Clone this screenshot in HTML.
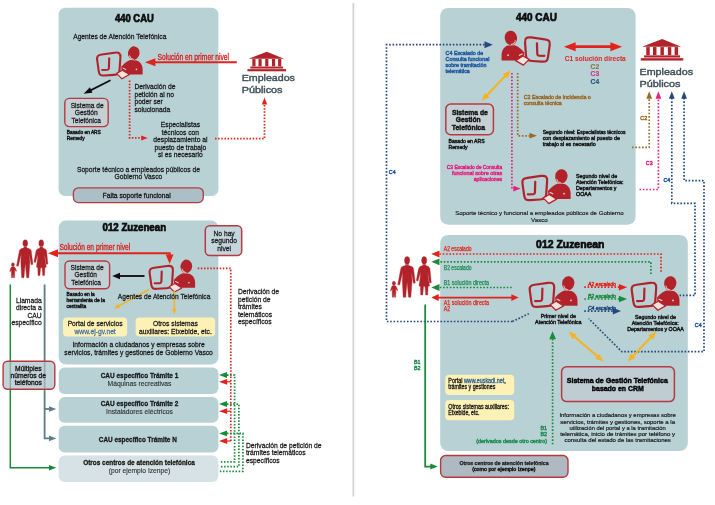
<!DOCTYPE html>
<html><head><meta charset="utf-8"><title>Diagrama CAU</title>
<style>
html,body{margin:0;padding:0;background:#fff;}
body{width:715px;height:505px;overflow:hidden;}
svg{display:block;font-family:"Liberation Sans",sans-serif;}
</style></head><body>
<svg width="715" height="505" viewBox="0 0 715 505">
<defs>
<filter id="soft" x="0" y="0" width="715" height="505" filterUnits="userSpaceOnUse"><feGaussianBlur stdDeviation="0.45"/></filter>
</defs>
<rect width="715" height="505" fill="#ffffff"/>
<g filter="url(#soft)">
<rect x="352.5" y="3" width="1.7" height="493.5" fill="#d2d2d2"/>
<rect x="58.6" y="7.8" width="159.8" height="188.2" rx="6.5" ry="6.5" fill="#b8d1d5"/>
<rect x="58.7" y="220.6" width="159.7" height="143.8" rx="7" ry="7" fill="#b8d1d5"/>
<rect x="58.7" y="367.5" width="159.7" height="26.6" rx="6" ry="6" fill="#b8d1d5"/>
<rect x="58.7" y="397.0" width="159.7" height="25.8" rx="6" ry="6" fill="#b8d1d5"/>
<rect x="58.7" y="425.8" width="159.7" height="26.7" rx="6" ry="6" fill="#b8d1d5"/>
<rect x="58.7" y="455.6" width="159.7" height="26.4" rx="6" ry="6" fill="#d6e2e5"/>
<rect x="440.2" y="8.0" width="195.4" height="216.7" rx="8" ry="8" fill="#b8d1d5"/>
<rect x="440.2" y="235.0" width="247.6" height="216.1" rx="8" ry="8" fill="#b8d1d5"/>
<text x="134.4" y="21.5" font-size="11.3" text-anchor="middle" fill="#0a0a0a" font-weight="bold" textLength="38.7" lengthAdjust="spacingAndGlyphs" stroke="#0a0a0a" stroke-width="0.7">440 CAU</text>
<text x="73.2" y="38.9" font-size="8.0" text-anchor="start" fill="#161616" textLength="93.2" lengthAdjust="spacingAndGlyphs" stroke="#161616" stroke-width="0.26">Agentes de Atención Telefónica</text>
<g transform="translate(95.0,45.0) scale(1.0,1.0)">
  <path d="M2.2,15.2 C1.6,11.2 2.8,10.1 6.8,9.5 L19.6,7.7 C24,7.1 25.7,8.4 25.4,12.6 L24.6,24.4 C24.3,28.6 23,29.6 18.8,29.9 L9.6,30.5 C5.4,30.8 4.2,29.8 3.7,25.8 Z" fill="none" stroke="#b1242a" stroke-width="2.1" stroke-linejoin="round"/>
  <path d="M14.2,13.2 L13.9,23.2 Q13.8,24.7 12.4,24.8 L7.2,25" fill="none" stroke="#b1242a" stroke-width="2.1" stroke-linecap="round" stroke-linejoin="round"/>
  <ellipse cx="38.8" cy="8.1" rx="5.8" ry="6.8" fill="#b1242a" transform="rotate(10 38.8 8.1)"/>
  <path d="M47.6,29.4 L47.6,24 C47.4,19.7 45,16.4 41.8,15.4 L35,15 C31.4,16.2 28.8,18.8 26.2,21.8 L26.6,25.2 L31,29.4 Z" fill="#b1242a"/>
  <path d="M21.6,28.4 L27.4,25.2 L34.4,29.6 L27,33.8 Z" fill="#f3e3df" stroke="#b1242a" stroke-width="1.2" stroke-linejoin="round"/>
  <path d="M34.6,10.8 Q35.2,14 38.4,14.2" fill="none" stroke="#e9b4b0" stroke-width="1.1" stroke-linecap="round"/>
  <circle cx="41.4" cy="24.4" r="0.8" fill="#f3d9d6"/>
  <path d="M27.7,23 L31.2,24.7" stroke="#f3d9d6" stroke-width="1" fill="none"/>
</g>
<path d="M154.0,62.2 L236.8,62.2" fill="none" stroke="#e2231a" stroke-width="2.1" stroke-linejoin="miter"/>
<polygon points="144.9,62.2 155.4,58.2 155.4,66.2" fill="#e2231a"/>
<text x="157.5" y="60.0" font-size="8.3" text-anchor="start" fill="#d81e1e" textLength="71.5" lengthAdjust="spacingAndGlyphs" stroke="#d81e1e" stroke-width="0.32">Solución en primer nivel</text>
<path d="M110.5,80.3 L89.0,91.1" fill="none" stroke="#111" stroke-width="1.8" stroke-linejoin="miter"/>
<polygon points="83.6,93.8 89.9,87.3 92.5,92.7" fill="#111"/>
<rect x="64.8" y="98.4" width="43.4" height="28.2" rx="4.5" ry="4.5" fill="#c4d0d4" stroke="#b53a42" stroke-width="1.4"/>
<text x="87.2" y="107.7" font-size="8.0" text-anchor="middle" fill="#161616" textLength="33.0" lengthAdjust="spacingAndGlyphs" stroke="#161616" stroke-width="0.26">Sistema de</text>
<text x="86.2" y="115.2" font-size="8.0" text-anchor="middle" fill="#161616" textLength="23.0" lengthAdjust="spacingAndGlyphs" stroke="#161616" stroke-width="0.26">Gestión</text>
<text x="86.2" y="122.7" font-size="8.0" text-anchor="middle" fill="#161616" textLength="29.2" lengthAdjust="spacingAndGlyphs" stroke="#161616" stroke-width="0.26">Telefónica</text>
<text x="66.8" y="134.2" font-size="5.3" text-anchor="start" fill="#161616" textLength="34.0" lengthAdjust="spacingAndGlyphs" stroke="#161616" stroke-width="0.44">Basado en ARS</text>
<text x="66.8" y="139.8" font-size="5.3" text-anchor="start" fill="#161616" textLength="17.9" lengthAdjust="spacingAndGlyphs" stroke="#161616" stroke-width="0.44">Remedy</text>
<path d="M129.6,80.5 L129.6,137.9 L141.0,137.9" fill="none" stroke="#e2231a" stroke-width="1.75" stroke-dasharray="1.5 1.64"/>
<polygon points="147.7,137.9 141.2,140.4 141.2,135.4" fill="#e2231a"/>
<text x="134.4" y="89.3" font-size="8.0" text-anchor="start" fill="#161616" textLength="41.1" lengthAdjust="spacingAndGlyphs" stroke="#161616" stroke-width="0.26">Derivación de</text>
<text x="134.4" y="96.8" font-size="8.0" text-anchor="start" fill="#161616" textLength="39.6" lengthAdjust="spacingAndGlyphs" stroke="#161616" stroke-width="0.26">petición al no</text>
<text x="134.4" y="104.4" font-size="8.0" text-anchor="start" fill="#161616" textLength="28.4" lengthAdjust="spacingAndGlyphs" stroke="#161616" stroke-width="0.26">poder ser</text>
<text x="134.4" y="112.0" font-size="8.0" text-anchor="start" fill="#161616" textLength="35.9" lengthAdjust="spacingAndGlyphs" stroke="#161616" stroke-width="0.26">solucionada</text>
<text x="180.4" y="127.1" font-size="8.0" text-anchor="middle" fill="#161616" textLength="39.2" lengthAdjust="spacingAndGlyphs" stroke="#161616" stroke-width="0.26">Especialistas</text>
<text x="180.4" y="134.6" font-size="8.0" text-anchor="middle" fill="#161616" textLength="37.4" lengthAdjust="spacingAndGlyphs" stroke="#161616" stroke-width="0.26">técnicos con</text>
<text x="180.4" y="142.0" font-size="8.0" text-anchor="middle" fill="#161616" textLength="54.2" lengthAdjust="spacingAndGlyphs" stroke="#161616" stroke-width="0.26">desplazamiento al</text>
<text x="180.4" y="149.7" font-size="8.0" text-anchor="middle" fill="#161616" textLength="51.9" lengthAdjust="spacingAndGlyphs" stroke="#161616" stroke-width="0.26">puesto de trabajo</text>
<text x="180.4" y="157.2" font-size="8.0" text-anchor="middle" fill="#161616" textLength="44.8" lengthAdjust="spacingAndGlyphs" stroke="#161616" stroke-width="0.26">si es necesario</text>
<text x="138.4" y="171.7" font-size="8.0" text-anchor="middle" fill="#161616" textLength="123.0" lengthAdjust="spacingAndGlyphs" stroke="#161616" stroke-width="0.26">Soporte técnico a empleados públicos de</text>
<text x="138.4" y="179.0" font-size="8.0" text-anchor="middle" fill="#161616" textLength="47.7" lengthAdjust="spacingAndGlyphs" stroke="#161616" stroke-width="0.26">Gobierno Vasco</text>
<rect x="73.4" y="187.8" width="129.9" height="14.8" rx="5" ry="5" fill="#adbfc6" stroke="#b53a42" stroke-width="1.3"/>
<text x="136.7" y="198.3" font-size="8.0" text-anchor="middle" fill="#161616" textLength="68.3" lengthAdjust="spacingAndGlyphs" stroke="#161616" stroke-width="0.3">Falta soporte funcional</text>
<path d="M215.0,138.7 L264.5,138.7 L264.5,104.0" fill="none" stroke="#e2231a" stroke-width="1.75" stroke-dasharray="1.5 1.64"/>
<polygon points="264.5,97.4 267.2,104.4 261.8,104.4" fill="#e2231a"/>
<g transform="translate(247.4,51.7) scale(0.99)" fill="#b1242a">
  <path d="M19.6,0 L37,7.2 L1.2,7.2 Z"/>
  <rect x="5" y="7.4" width="3.2" height="7.4"/>
  <rect x="11.2" y="7.4" width="3.2" height="7.4"/>
  <rect x="18" y="7.4" width="3.2" height="7.4"/>
  <rect x="24.8" y="7.4" width="3.2" height="7.4"/>
  <rect x="31" y="7.4" width="3.2" height="7.4"/>
  <rect x="3" y="15" width="33" height="2"/>
  <rect x="0" y="17.6" width="39" height="2.2"/>
</g>
<text x="241.7" y="80.9" font-size="9.7" text-anchor="start" fill="#3f5058" textLength="53.2" lengthAdjust="spacingAndGlyphs" stroke="#3f5058" stroke-width="0.42">Empleados</text>
<text x="241.7" y="92.7" font-size="9.7" text-anchor="start" fill="#3f5058" textLength="40.8" lengthAdjust="spacingAndGlyphs" stroke="#3f5058" stroke-width="0.42">Públicos</text>
<text x="134.3" y="231.4" font-size="11.3" text-anchor="middle" fill="#0a0a0a" font-weight="bold" textLength="63.5" lengthAdjust="spacingAndGlyphs" stroke="#0a0a0a" stroke-width="0.7">012 Zuzenean</text>
<g transform="translate(9.3,239.1) scale(0.935)" fill="#b1242a" stroke="#b1242a" stroke-width="0.35" stroke-linejoin="round">
  <ellipse cx="3.9" cy="27.3" rx="1.6" ry="2"/>
  <path d="M3,29.6 L4.9,29.6 Q6,29.8 6.4,31 L7.8,34.2 L7.1,34.7 L5.8,32.6 L5.8,36.5 L5.7,41.3 L4.5,41.3 L4,37.2 L3.6,41.3 L2.3,41.3 L2.2,36.5 L2.3,32.6 L1.1,34.9 L0.4,34.5 L1.6,31 Q2,29.8 3,29.6 Z"/>
  <ellipse cx="17.1" cy="4.4" rx="2.6" ry="3.8"/>
  <path d="M15.6,8.4 L18.6,8.4 L18.7,9.6 Q22.8,10.2 23.5,12.4 L25.3,27 L23.4,27.3 L21.4,15.9 L22.1,24.6 L20.9,41.3 L18.5,41.3 L17.1,25.9 L15.7,41.3 L13.2,41.3 L12.3,24.6 L12.8,15.9 L9.6,29.1 L7.7,28.7 L10.8,12.4 Q11.4,10.2 15.5,9.6 Z"/>
  <ellipse cx="34.2" cy="4.4" rx="2.6" ry="3.8"/>
  <path d="M32.8,8.4 L35.7,8.4 L35.8,9.6 Q39.2,10.2 39.9,12.4 L41.3,26.7 L39.5,27 L37.8,15.9 L38.1,21.2 L39.6,30 L38.1,30.3 L37.7,38.9 L35.7,38.9 L35.1,30.6 L33.5,30.6 L32.8,38.9 L30.7,38.9 L30.4,30.3 L29,30 L30.2,21.2 L30.5,15.9 L28,25 L26.3,24.6 L28.6,12.4 Q29.3,10.2 32.7,9.6 Z"/>
</g>
<path d="M56.0,253.3 L169.6,253.3 L169.6,256.0" fill="none" stroke="#e2231a" stroke-width="2.1" stroke-linejoin="miter"/>
<polygon points="48.0,253.3 58.0,249.3 58.0,257.3" fill="#e2231a"/>
<polygon points="169.6,263.7 165.7,254.4 173.5,254.4" fill="#e2231a"/>
<text x="59.4" y="249.8" font-size="8.3" text-anchor="start" fill="#d81e1e" textLength="70.8" lengthAdjust="spacingAndGlyphs" stroke="#d81e1e" stroke-width="0.32">Solución en primer nivel</text>
<rect x="205.3" y="225.8" width="36.4" height="29.8" rx="4.5" ry="4.5" fill="#c4d5db" stroke="#b53a42" stroke-width="1.5"/>
<text x="224.1" y="235.6" font-size="8.0" text-anchor="middle" fill="#161616" textLength="21.3" lengthAdjust="spacingAndGlyphs" stroke="#161616" stroke-width="0.26">No hay</text>
<text x="224.1" y="243.3" font-size="8.0" text-anchor="middle" fill="#161616" textLength="25.8" lengthAdjust="spacingAndGlyphs" stroke="#161616" stroke-width="0.26">segundo</text>
<text x="224.1" y="250.9" font-size="8.0" text-anchor="middle" fill="#161616" textLength="13.8" lengthAdjust="spacingAndGlyphs" stroke="#161616" stroke-width="0.26">nivel</text>
<rect x="65.0" y="261.0" width="44.6" height="27.8" rx="4.5" ry="4.5" fill="#c4d0d4" stroke="#b53a42" stroke-width="1.4"/>
<text x="87.1" y="269.8" font-size="8.0" text-anchor="middle" fill="#161616" textLength="33.1" lengthAdjust="spacingAndGlyphs" stroke="#161616" stroke-width="0.26">Sistema de</text>
<text x="85.7" y="277.3" font-size="8.0" text-anchor="middle" fill="#161616" textLength="22.5" lengthAdjust="spacingAndGlyphs" stroke="#161616" stroke-width="0.26">Gestión</text>
<text x="86.1" y="285.1" font-size="8.0" text-anchor="middle" fill="#161616" textLength="29.6" lengthAdjust="spacingAndGlyphs" stroke="#161616" stroke-width="0.26">Telefónica</text>
<text x="66.5" y="296.2" font-size="5.4" text-anchor="start" fill="#161616" textLength="28.2" lengthAdjust="spacingAndGlyphs" stroke="#161616" stroke-width="0.44">Basado en la</text>
<text x="66.5" y="301.8" font-size="5.4" text-anchor="start" fill="#161616" textLength="38.4" lengthAdjust="spacingAndGlyphs" stroke="#161616" stroke-width="0.44">herramienta de la</text>
<text x="66.5" y="307.5" font-size="5.4" text-anchor="start" fill="#161616" textLength="19.8" lengthAdjust="spacingAndGlyphs" stroke="#161616" stroke-width="0.44">centralita</text>
<path d="M144.5,276.0 L119.0,276.0" fill="none" stroke="#111" stroke-width="1.9" stroke-linejoin="miter"/>
<polygon points="112.2,276.0 120.0,272.7 120.0,279.3" fill="#111"/>
<g transform="translate(147.5,258.3) scale(1.0,1.0)">
  <path d="M2.2,15.2 C1.6,11.2 2.8,10.1 6.8,9.5 L19.6,7.7 C24,7.1 25.7,8.4 25.4,12.6 L24.6,24.4 C24.3,28.6 23,29.6 18.8,29.9 L9.6,30.5 C5.4,30.8 4.2,29.8 3.7,25.8 Z" fill="none" stroke="#b1242a" stroke-width="2.1" stroke-linejoin="round"/>
  <path d="M14.2,13.2 L13.9,23.2 Q13.8,24.7 12.4,24.8 L7.2,25" fill="none" stroke="#b1242a" stroke-width="2.1" stroke-linecap="round" stroke-linejoin="round"/>
  <ellipse cx="38.8" cy="8.1" rx="5.8" ry="6.8" fill="#b1242a" transform="rotate(10 38.8 8.1)"/>
  <path d="M47.6,29.4 L47.6,24 C47.4,19.7 45,16.4 41.8,15.4 L35,15 C31.4,16.2 28.8,18.8 26.2,21.8 L26.6,25.2 L31,29.4 Z" fill="#b1242a"/>
  <path d="M21.6,28.4 L27.4,25.2 L34.4,29.6 L27,33.8 Z" fill="#f3e3df" stroke="#b1242a" stroke-width="1.2" stroke-linejoin="round"/>
  <path d="M34.6,10.8 Q35.2,14 38.4,14.2" fill="none" stroke="#e9b4b0" stroke-width="1.1" stroke-linecap="round"/>
  <circle cx="41.4" cy="24.4" r="0.8" fill="#f3d9d6"/>
  <path d="M27.7,23 L31.2,24.7" stroke="#f3d9d6" stroke-width="1" fill="none"/>
</g>
<path d="M149.0,289.5 L119.0,305.9" fill="none" stroke="#f5b323" stroke-width="1.5" stroke-linejoin="miter"/>
<polygon points="113.9,308.7 118.1,303.8 120.2,307.8" fill="#f5b323"/>
<path d="M174.3,290.6 L174.3,309.0" fill="none" stroke="#f5b323" stroke-width="1.5" stroke-linejoin="miter"/>
<polygon points="174.3,314.6 172.1,308.6 176.6,308.6" fill="#f5b323"/>
<text x="117.8" y="298.7" font-size="8.0" text-anchor="start" fill="#161616" textLength="92.6" lengthAdjust="spacingAndGlyphs" stroke="#161616" stroke-width="0.26">Agentes de Atención Telefónica</text>
<rect x="63.0" y="317.6" width="64.2" height="18.8" rx="4" ry="4" fill="#fdf1b6"/>
<text x="95.1" y="325.7" font-size="8.0" text-anchor="middle" fill="#161616" textLength="54.9" lengthAdjust="spacingAndGlyphs" stroke="#161616" stroke-width="0.26">Portal de servicios</text>
<text x="95.1" y="334.0" font-size="8.0" text-anchor="middle" fill="#3f6f9f" textLength="41.3" lengthAdjust="spacingAndGlyphs" stroke="#3f6f9f" stroke-width="0.26">www.ej-gv.net</text>
<rect x="135.6" y="317.6" width="79.6" height="18.8" rx="4" ry="4" fill="#fdf1b6"/>
<text x="175.4" y="325.7" font-size="8.0" text-anchor="middle" fill="#161616" textLength="44.8" lengthAdjust="spacingAndGlyphs" stroke="#161616" stroke-width="0.26">Otros sistemas</text>
<text x="175.4" y="334.0" font-size="8.0" text-anchor="middle" fill="#161616" textLength="72.8" lengthAdjust="spacingAndGlyphs" stroke="#161616" stroke-width="0.26">auxiliares: Etxebide, etc.</text>
<text x="138.6" y="347.3" font-size="8.0" text-anchor="middle" fill="#161616" textLength="132.2" lengthAdjust="spacingAndGlyphs" stroke="#161616" stroke-width="0.26">Información a ciudadanos y empresas sobre</text>
<text x="138.6" y="355.3" font-size="8.0" text-anchor="middle" fill="#161616" textLength="148.5" lengthAdjust="spacingAndGlyphs" stroke="#161616" stroke-width="0.26">servicios, trámites y gestiones de Gobierno Vasco</text>
<path d="M197.7,268.4 L230.8,268.4 L230.8,441.0" fill="none" stroke="#e2231a" stroke-width="1.75" stroke-dasharray="1.5 1.64"/>
<text x="238.0" y="294.2" font-size="8.0" text-anchor="start" fill="#161616" textLength="41.1" lengthAdjust="spacingAndGlyphs" stroke="#161616" stroke-width="0.26">Derivación de</text>
<text x="238.0" y="301.8" font-size="8.0" text-anchor="start" fill="#161616" textLength="32.5" lengthAdjust="spacingAndGlyphs" stroke="#161616" stroke-width="0.26">petición de</text>
<text x="238.0" y="309.2" font-size="8.0" text-anchor="start" fill="#161616" textLength="23.9" lengthAdjust="spacingAndGlyphs" stroke="#161616" stroke-width="0.26">trámites</text>
<text x="238.0" y="316.5" font-size="8.0" text-anchor="start" fill="#161616" textLength="34.0" lengthAdjust="spacingAndGlyphs" stroke="#161616" stroke-width="0.26">telemáticos</text>
<text x="238.0" y="323.8" font-size="8.0" text-anchor="start" fill="#161616" textLength="33.6" lengthAdjust="spacingAndGlyphs" stroke="#161616" stroke-width="0.26">específicos</text>
<path d="M10.3,284.6 L10.3,467.7 L50.0,467.7" fill="none" stroke="#1b8a3a" stroke-width="1.5" stroke-linejoin="miter"/>
<polygon points="56.2,467.7 49.0,470.5 49.0,464.9" fill="#1b8a3a"/>
<path d="M44.6,284.6 L44.6,438.4 L50.0,438.4" fill="none" stroke="#5b7f86" stroke-width="1.8" stroke-linejoin="miter"/>
<path d="M44.6,409.0 L50.0,409.0" fill="none" stroke="#5b7f86" stroke-width="1.8" stroke-linejoin="miter"/>
<polygon points="56.2,409.0 49.0,411.8 49.0,406.2" fill="#5b7f86"/>
<polygon points="56.2,438.4 49.0,441.2 49.0,435.6" fill="#5b7f86"/>
<text x="41.7" y="302.7" font-size="8.0" text-anchor="end" fill="#161616" textLength="25.8" lengthAdjust="spacingAndGlyphs" stroke="#161616" stroke-width="0.26">Llamada</text>
<text x="41.7" y="310.2" font-size="8.0" text-anchor="end" fill="#161616" textLength="25.8" lengthAdjust="spacingAndGlyphs" stroke="#161616" stroke-width="0.26">directa a</text>
<text x="41.7" y="317.7" font-size="8.0" text-anchor="end" fill="#161616" textLength="14.2" lengthAdjust="spacingAndGlyphs" stroke="#161616" stroke-width="0.26">CAU</text>
<text x="41.7" y="325.0" font-size="8.0" text-anchor="end" fill="#161616" textLength="30.3" lengthAdjust="spacingAndGlyphs" stroke="#161616" stroke-width="0.26">específico</text>
<rect x="3.1" y="361.2" width="51.7" height="28" rx="4.5" ry="4.5" fill="#adc2c9" fill-opacity="0.72" stroke="#b53a42" stroke-width="1.4"/>
<text x="28.3" y="370.9" font-size="8.0" text-anchor="middle" fill="#1c1c1c" textLength="26.5" lengthAdjust="spacingAndGlyphs" stroke="#1c1c1c" stroke-width="0.4">Múltiples</text>
<text x="28.3" y="378.1" font-size="8.0" text-anchor="middle" fill="#1c1c1c" textLength="35.5" lengthAdjust="spacingAndGlyphs" stroke="#1c1c1c" stroke-width="0.4">números de</text>
<text x="28.3" y="385.3" font-size="8.0" text-anchor="middle" fill="#1c1c1c" textLength="27.3" lengthAdjust="spacingAndGlyphs" stroke="#1c1c1c" stroke-width="0.4">teléfonos</text>
<text x="139.5" y="378.0" font-size="7.7" text-anchor="middle" fill="#161616" font-weight="bold" textLength="77.6" lengthAdjust="spacingAndGlyphs" stroke="#161616" stroke-width="0.3">CAU específico Trámite 1</text>
<text x="139.5" y="385.7" font-size="8.0" text-anchor="middle" fill="#2e2e2e" textLength="63.9" lengthAdjust="spacingAndGlyphs" stroke="#2e2e2e" stroke-width="0.12">Máquinas recreativas</text>
<text x="139.5" y="406.2" font-size="7.7" text-anchor="middle" fill="#161616" font-weight="bold" textLength="77.6" lengthAdjust="spacingAndGlyphs" stroke="#161616" stroke-width="0.3">CAU específico Trámite 2</text>
<text x="139.5" y="413.7" font-size="8.0" text-anchor="middle" fill="#2e2e2e" textLength="66.9" lengthAdjust="spacingAndGlyphs" stroke="#2e2e2e" stroke-width="0.12">Instaladores eléctricos</text>
<text x="137.8" y="441.7" font-size="7.7" text-anchor="middle" fill="#161616" font-weight="bold" textLength="78.0" lengthAdjust="spacingAndGlyphs" stroke="#161616" stroke-width="0.3">CAU específico Trámite N</text>
<text x="139.0" y="465.2" font-size="7.7" text-anchor="middle" fill="#161616" font-weight="bold" textLength="111.7" lengthAdjust="spacingAndGlyphs" stroke="#161616" stroke-width="0.3">Otros centros de atención telefónica</text>
<text x="139.5" y="473.3" font-size="8.0" text-anchor="middle" fill="#2e2e2e" textLength="61.6" lengthAdjust="spacingAndGlyphs" stroke="#2e2e2e" stroke-width="0.12">(por ejemplo Izenpe)</text>
<polygon points="219.0,375.0 227.0,372.1 227.0,377.9" fill="#1b8a3a"/>
<polygon points="219.0,381.8 227.2,378.9 227.2,384.7" fill="#e2231a"/>
<path d="M227.0,381.8 L230.8,381.8" fill="none" stroke="#e2231a" stroke-width="1.2" stroke-linejoin="miter"/>
<polygon points="219.0,404.0 227.0,401.1 227.0,406.9" fill="#1b8a3a"/>
<polygon points="219.0,411.2 227.2,408.3 227.2,414.1" fill="#e2231a"/>
<path d="M227.0,411.2 L230.8,411.2" fill="none" stroke="#e2231a" stroke-width="1.2" stroke-linejoin="miter"/>
<polygon points="219.0,433.4 227.0,430.5 227.0,436.3" fill="#1b8a3a"/>
<polygon points="219.0,441.0 227.2,438.1 227.2,443.9" fill="#e2231a"/>
<path d="M227.0,441.0 L230.8,441.0" fill="none" stroke="#e2231a" stroke-width="1.2" stroke-linejoin="miter"/>
<path d="M227.0,375.0 L234.6,375.0 L234.6,461.9 L219.5,461.9" fill="none" stroke="#1b8a3a" stroke-width="1.75" stroke-dasharray="1.5 1.64"/>
<path d="M227.0,404.0 L238.9,404.0 L238.9,466.7 L219.5,466.7" fill="none" stroke="#1b8a3a" stroke-width="1.75" stroke-dasharray="1.5 1.64"/>
<path d="M227.0,433.4 L242.9,433.4 L242.9,471.3 L219.5,471.3" fill="none" stroke="#1b8a3a" stroke-width="1.75" stroke-dasharray="1.5 1.64"/>
<text x="246.0" y="447.6" font-size="8.0" text-anchor="start" fill="#161616" textLength="75.5" lengthAdjust="spacingAndGlyphs" stroke="#161616" stroke-width="0.26">Derivación de petición de</text>
<text x="246.0" y="455.1" font-size="8.0" text-anchor="start" fill="#161616" textLength="59.7" lengthAdjust="spacingAndGlyphs" stroke="#161616" stroke-width="0.26">trámites telemáticos</text>
<text x="246.0" y="462.6" font-size="8.0" text-anchor="start" fill="#161616" textLength="33.6" lengthAdjust="spacingAndGlyphs" stroke="#161616" stroke-width="0.26">específicos</text>
<text x="536.4" y="21.2" font-size="11.6" text-anchor="middle" fill="#0a0a0a" font-weight="bold" textLength="41.0" lengthAdjust="spacingAndGlyphs" stroke="#0a0a0a" stroke-width="0.7">440 CAU</text>
<g transform="translate(552.0,29.3) scale(-1.06,1.06)">
  <path d="M2.2,15.2 C1.6,11.2 2.8,10.1 6.8,9.5 L19.6,7.7 C24,7.1 25.7,8.4 25.4,12.6 L24.6,24.4 C24.3,28.6 23,29.6 18.8,29.9 L9.6,30.5 C5.4,30.8 4.2,29.8 3.7,25.8 Z" fill="none" stroke="#b1242a" stroke-width="2.1" stroke-linejoin="round"/>
  <path d="M14.2,13.2 L13.9,23.2 Q13.8,24.7 12.4,24.8 L7.2,25" fill="none" stroke="#b1242a" stroke-width="2.1" stroke-linecap="round" stroke-linejoin="round"/>
  <ellipse cx="38.8" cy="8.1" rx="5.8" ry="6.8" fill="#b1242a" transform="rotate(10 38.8 8.1)"/>
  <path d="M47.6,29.4 L47.6,24 C47.4,19.7 45,16.4 41.8,15.4 L35,15 C31.4,16.2 28.8,18.8 26.2,21.8 L26.6,25.2 L31,29.4 Z" fill="#b1242a"/>
  <path d="M21.6,28.4 L27.4,25.2 L34.4,29.6 L27,33.8 Z" fill="#f3e3df" stroke="#b1242a" stroke-width="1.2" stroke-linejoin="round"/>
  <path d="M34.6,10.8 Q35.2,14 38.4,14.2" fill="none" stroke="#e9b4b0" stroke-width="1.1" stroke-linecap="round"/>
  <circle cx="41.4" cy="24.4" r="0.8" fill="#f3d9d6"/>
  <path d="M27.7,23 L31.2,24.7" stroke="#f3d9d6" stroke-width="1" fill="none"/>
</g>
<path d="M512.4,321.5 L386.5,321.5 L386.5,44.7 L486.0,44.7" fill="none" stroke="#22497f" stroke-width="1.7" stroke-dasharray="1.6 1.75"/>
<path d="M512.4,321.5 L528.8,313.7" fill="none" stroke="#22497f" stroke-width="1.7" stroke-dasharray="1.6 1.75"/>
<polygon points="492.8,44.7 484.5,48.2 484.5,41.2" fill="#22497f"/>
<text x="445.6" y="55.0" font-size="5.6" text-anchor="start" fill="#2058a0" textLength="37.6" lengthAdjust="spacingAndGlyphs" stroke="#2058a0" stroke-width="0.44">C4 Escalado de</text>
<text x="445.6" y="61.0" font-size="5.6" text-anchor="start" fill="#2058a0" textLength="43.8" lengthAdjust="spacingAndGlyphs" stroke="#2058a0" stroke-width="0.44">Consulta funcional</text>
<text x="445.6" y="67.0" font-size="5.6" text-anchor="start" fill="#2058a0" textLength="40.8" lengthAdjust="spacingAndGlyphs" stroke="#2058a0" stroke-width="0.44">sobre tramitación</text>
<text x="445.6" y="73.0" font-size="5.6" text-anchor="start" fill="#2058a0" textLength="24.2" lengthAdjust="spacingAndGlyphs" stroke="#2058a0" stroke-width="0.44">telemática</text>
<path d="M573.0,46.7 L613.0,46.7" fill="none" stroke="#e2231a" stroke-width="2.8" stroke-linejoin="miter"/>
<polygon points="563.9,46.7 575.6,42.2 575.6,51.2" fill="#e2231a"/>
<polygon points="622.1,46.7 610.4,51.2 610.4,42.2" fill="#e2231a"/>
<text x="564.8" y="60.7" font-size="8.1" text-anchor="start" fill="#dc2a2e" font-weight="bold" textLength="61.0" lengthAdjust="spacingAndGlyphs" stroke="#dc2a2e" stroke-width="0.05">C1 solución directa</text>
<text x="599.2" y="68.6" font-size="7.4" text-anchor="end" fill="#8a7840" font-weight="bold" textLength="8.6" lengthAdjust="spacingAndGlyphs" stroke="#8a7840" stroke-width="0.15">C2</text>
<text x="599.2" y="76.2" font-size="7.4" text-anchor="end" fill="#c63a8f" font-weight="bold" textLength="8.6" lengthAdjust="spacingAndGlyphs" stroke="#c63a8f" stroke-width="0.15">C3</text>
<text x="599.2" y="84.2" font-size="7.4" text-anchor="end" fill="#24527a" font-weight="bold" textLength="8.6" lengthAdjust="spacingAndGlyphs" stroke="#24527a" stroke-width="0.15">C4</text>
<path d="M486.0,96.2 L506.2,75.1" fill="none" stroke="#f5b323" stroke-width="2.1" stroke-linejoin="miter"/>
<polygon points="481.6,100.8 484.8,92.8 489.4,97.2" fill="#f5b323"/>
<polygon points="510.6,70.5 507.4,78.5 502.8,74.1" fill="#f5b323"/>
<path d="M511.9,73.0 L511.9,188.7 L514.0,188.7" fill="none" stroke="#e5217f" stroke-width="1.7" stroke-dasharray="1.6 1.75"/>
<polygon points="520.6,188.6 513.4,191.4 513.4,185.8" fill="#e5217f"/>
<text x="502.2" y="168.6" font-size="5.6" text-anchor="end" fill="#e5217f" textLength="55.4" lengthAdjust="spacingAndGlyphs" stroke="#e5217f" stroke-width="0.44">C3 Escalado de Consulta</text>
<text x="502.2" y="174.9" font-size="5.6" text-anchor="end" fill="#e5217f" textLength="50.2" lengthAdjust="spacingAndGlyphs" stroke="#e5217f" stroke-width="0.44">funcional sobre otras</text>
<text x="502.2" y="181.0" font-size="5.6" text-anchor="end" fill="#e5217f" textLength="28.5" lengthAdjust="spacingAndGlyphs" stroke="#e5217f" stroke-width="0.44">aplicaciones</text>
<path d="M517.7,73.0 L517.7,135.8 L531.0,135.8" fill="none" stroke="#9a6a2a" stroke-width="1.7" stroke-dasharray="1.6 1.75"/>
<polygon points="537.0,135.7 529.5,138.6 529.5,132.8" fill="#9a6a2a"/>
<text x="523.7" y="98.7" font-size="5.6" text-anchor="start" fill="#9a6a2a" textLength="67.1" lengthAdjust="spacingAndGlyphs" stroke="#9a6a2a" stroke-width="0.44">C2 Escalado de incidencia o</text>
<text x="523.7" y="104.7" font-size="5.6" text-anchor="start" fill="#9a6a2a" textLength="38.1" lengthAdjust="spacingAndGlyphs" stroke="#9a6a2a" stroke-width="0.44">consulta técnica</text>
<rect x="445.8" y="104.0" width="47.6" height="30.7" rx="5" ry="5" fill="#c4d0d4" stroke="#b53a42" stroke-width="1.5"/>
<text x="469.9" y="114.9" font-size="8.1" text-anchor="middle" fill="#161616" font-weight="bold" textLength="36.0" lengthAdjust="spacingAndGlyphs" stroke="#161616" stroke-width="0.5">Sistema de</text>
<text x="468.2" y="122.4" font-size="8.1" text-anchor="middle" fill="#161616" font-weight="bold" textLength="25.0" lengthAdjust="spacingAndGlyphs" stroke="#161616" stroke-width="0.5">Gestión</text>
<text x="468.5" y="130.2" font-size="8.1" text-anchor="middle" fill="#161616" font-weight="bold" textLength="33.3" lengthAdjust="spacingAndGlyphs" stroke="#161616" stroke-width="0.5">Telefónica</text>
<text x="448.5" y="142.6" font-size="5.6" text-anchor="start" fill="#161616" textLength="36.1" lengthAdjust="spacingAndGlyphs" stroke="#161616" stroke-width="0.44">Basado en ARS</text>
<text x="448.5" y="148.8" font-size="5.6" text-anchor="start" fill="#161616" textLength="19.2" lengthAdjust="spacingAndGlyphs" stroke="#161616" stroke-width="0.44">Remedy</text>
<text x="542.7" y="134.0" font-size="5.6" text-anchor="start" fill="#161616" textLength="82.7" lengthAdjust="spacingAndGlyphs" stroke="#161616" stroke-width="0.44">Segundo nivel: Especialistas técnicos</text>
<text x="542.7" y="140.2" font-size="5.6" text-anchor="start" fill="#161616" textLength="77.2" lengthAdjust="spacingAndGlyphs" stroke="#161616" stroke-width="0.44">con desplazamiento al puesto de</text>
<text x="542.7" y="146.4" font-size="5.6" text-anchor="start" fill="#161616" textLength="53.0" lengthAdjust="spacingAndGlyphs" stroke="#161616" stroke-width="0.44">trabajo si es necesario</text>
<g transform="translate(520.2,167.8) scale(1.06,1.06)">
  <path d="M2.2,15.2 C1.6,11.2 2.8,10.1 6.8,9.5 L19.6,7.7 C24,7.1 25.7,8.4 25.4,12.6 L24.6,24.4 C24.3,28.6 23,29.6 18.8,29.9 L9.6,30.5 C5.4,30.8 4.2,29.8 3.7,25.8 Z" fill="none" stroke="#b1242a" stroke-width="2.1" stroke-linejoin="round"/>
  <path d="M14.2,13.2 L13.9,23.2 Q13.8,24.7 12.4,24.8 L7.2,25" fill="none" stroke="#b1242a" stroke-width="2.1" stroke-linecap="round" stroke-linejoin="round"/>
  <ellipse cx="38.8" cy="8.1" rx="5.8" ry="6.8" fill="#b1242a" transform="rotate(10 38.8 8.1)"/>
  <path d="M47.6,29.4 L47.6,24 C47.4,19.7 45,16.4 41.8,15.4 L35,15 C31.4,16.2 28.8,18.8 26.2,21.8 L26.6,25.2 L31,29.4 Z" fill="#b1242a"/>
  <path d="M21.6,28.4 L27.4,25.2 L34.4,29.6 L27,33.8 Z" fill="#f3e3df" stroke="#b1242a" stroke-width="1.2" stroke-linejoin="round"/>
  <path d="M34.6,10.8 Q35.2,14 38.4,14.2" fill="none" stroke="#e9b4b0" stroke-width="1.1" stroke-linecap="round"/>
  <circle cx="41.4" cy="24.4" r="0.8" fill="#f3d9d6"/>
  <path d="M27.7,23 L31.2,24.7" stroke="#f3d9d6" stroke-width="1" fill="none"/>
</g>
<text x="576.0" y="178.0" font-size="5.6" text-anchor="start" fill="#161616" textLength="41.1" lengthAdjust="spacingAndGlyphs" stroke="#161616" stroke-width="0.44">Segundo nivel de</text>
<text x="576.0" y="184.0" font-size="5.6" text-anchor="start" fill="#161616" textLength="47.5" lengthAdjust="spacingAndGlyphs" stroke="#161616" stroke-width="0.44">Atención Telefónica:</text>
<text x="576.0" y="190.0" font-size="5.6" text-anchor="start" fill="#161616" textLength="40.5" lengthAdjust="spacingAndGlyphs" stroke="#161616" stroke-width="0.44">Departamentos y</text>
<text x="576.0" y="196.0" font-size="5.6" text-anchor="start" fill="#161616" textLength="15.4" lengthAdjust="spacingAndGlyphs" stroke="#161616" stroke-width="0.44">OOAA</text>
<text x="539.4" y="214.6" font-size="5.9" text-anchor="middle" fill="#161616" textLength="168.5" lengthAdjust="spacingAndGlyphs" stroke="#161616" stroke-width="0.15">Soporte técnico y funcional a empleados públicos de Gobierno</text>
<text x="539.4" y="221.5" font-size="5.9" text-anchor="middle" fill="#161616" textLength="16.6" lengthAdjust="spacingAndGlyphs" stroke="#161616" stroke-width="0.15">Vasco</text>
<g transform="translate(640.8,39.0) scale(1.09)" fill="#b1242a">
  <path d="M19.6,0 L37,7.2 L1.2,7.2 Z"/>
  <rect x="5" y="7.4" width="3.2" height="7.4"/>
  <rect x="11.2" y="7.4" width="3.2" height="7.4"/>
  <rect x="18" y="7.4" width="3.2" height="7.4"/>
  <rect x="24.8" y="7.4" width="3.2" height="7.4"/>
  <rect x="31" y="7.4" width="3.2" height="7.4"/>
  <rect x="3" y="15" width="33" height="2"/>
  <rect x="0" y="17.6" width="39" height="2.2"/>
</g>
<text x="639.5" y="75.0" font-size="9.7" text-anchor="start" fill="#3f5058" textLength="53.6" lengthAdjust="spacingAndGlyphs" stroke="#3f5058" stroke-width="0.42">Empleados</text>
<text x="639.5" y="87.0" font-size="9.7" text-anchor="start" fill="#3f5058" textLength="41.0" lengthAdjust="spacingAndGlyphs" stroke="#3f5058" stroke-width="0.42">Públicos</text>
<polygon points="649.2,91.2 652.1,98.8 646.3,98.8" fill="#9a6a2a"/>
<polygon points="658.4,91.2 661.3,98.8 655.5,98.8" fill="#e5217f"/>
<polygon points="671.8,91.2 674.7,98.8 668.9,98.8" fill="#22497f"/>
<polygon points="684.1,91.2 687.0,98.8 681.2,98.8" fill="#22497f"/>
<path d="M632.0,147.4 L649.2,147.4 L649.2,98.0" fill="none" stroke="#9a6a2a" stroke-width="1.7" stroke-dasharray="1.6 1.75"/>
<path d="M639.5,189.5 L658.4,189.5 L658.4,98.0" fill="none" stroke="#e5217f" stroke-width="1.7" stroke-dasharray="1.6 1.75"/>
<path d="M671.8,98.0 L671.8,203.3 L695.0,203.3 L695.0,295.3 L679.6,295.3" fill="none" stroke="#22497f" stroke-width="1.7" stroke-dasharray="1.6 1.75"/>
<path d="M684.1,98.0 L684.1,180.6 L704.0,180.6 L704.0,351.7 L621.8,351.7 L588.7,318.6" fill="none" stroke="#22497f" stroke-width="1.7" stroke-dasharray="1.6 1.75"/>
<text x="640.3" y="119.7" font-size="5.6" text-anchor="start" fill="#9a6a2a" textLength="6.8" lengthAdjust="spacingAndGlyphs" stroke="#9a6a2a" stroke-width="0.44">C2</text>
<text x="645.8" y="165.0" font-size="5.6" text-anchor="start" fill="#e5217f" textLength="6.8" lengthAdjust="spacingAndGlyphs" stroke="#e5217f" stroke-width="0.44">C3</text>
<text x="663.5" y="182.0" font-size="5.6" text-anchor="start" fill="#2058a0" textLength="6.8" lengthAdjust="spacingAndGlyphs" stroke="#2058a0" stroke-width="0.44">C4</text>
<text x="694.8" y="326.5" font-size="5.6" text-anchor="start" fill="#2058a0" textLength="6.8" lengthAdjust="spacingAndGlyphs" stroke="#2058a0" stroke-width="0.44">C4</text>
<text x="388.8" y="173.7" font-size="5.6" text-anchor="start" fill="#2058a0" textLength="6.8" lengthAdjust="spacingAndGlyphs" stroke="#2058a0" stroke-width="0.44">C4</text>
<text x="570.3" y="247.6" font-size="11.3" text-anchor="middle" fill="#0a0a0a" font-weight="bold" textLength="68.4" lengthAdjust="spacingAndGlyphs" stroke="#0a0a0a" stroke-width="0.7">012 Zuzenean</text>
<g transform="translate(390.0,256.0) scale(1.0)" fill="#b1242a" stroke="#b1242a" stroke-width="0.35" stroke-linejoin="round">
  <ellipse cx="3.9" cy="27.3" rx="1.6" ry="2"/>
  <path d="M3,29.6 L4.9,29.6 Q6,29.8 6.4,31 L7.8,34.2 L7.1,34.7 L5.8,32.6 L5.8,36.5 L5.7,41.3 L4.5,41.3 L4,37.2 L3.6,41.3 L2.3,41.3 L2.2,36.5 L2.3,32.6 L1.1,34.9 L0.4,34.5 L1.6,31 Q2,29.8 3,29.6 Z"/>
  <ellipse cx="17.1" cy="4.4" rx="2.6" ry="3.8"/>
  <path d="M15.6,8.4 L18.6,8.4 L18.7,9.6 Q22.8,10.2 23.5,12.4 L25.3,27 L23.4,27.3 L21.4,15.9 L22.1,24.6 L20.9,41.3 L18.5,41.3 L17.1,25.9 L15.7,41.3 L13.2,41.3 L12.3,24.6 L12.8,15.9 L9.6,29.1 L7.7,28.7 L10.8,12.4 Q11.4,10.2 15.5,9.6 Z"/>
  <ellipse cx="34.2" cy="4.4" rx="2.6" ry="3.8"/>
  <path d="M32.8,8.4 L35.7,8.4 L35.8,9.6 Q39.2,10.2 39.9,12.4 L41.3,26.7 L39.5,27 L37.8,15.9 L38.1,21.2 L39.6,30 L38.1,30.3 L37.7,38.9 L35.7,38.9 L35.1,30.6 L33.5,30.6 L32.8,38.9 L30.7,38.9 L30.4,30.3 L29,30 L30.2,21.2 L30.5,15.9 L28,25 L26.3,24.6 L28.6,12.4 Q29.3,10.2 32.7,9.6 Z"/>
</g>
<path d="M661.0,271.8 L661.0,254.0 L438.0,254.0" fill="none" stroke="#e2231a" stroke-width="1.7" stroke-dasharray="1.6 1.75"/>
<polygon points="431.3,254.0 439.5,250.6 439.5,257.4" fill="#e2231a"/>
<text x="443.8" y="251.4" font-size="6.5" text-anchor="start" fill="#e2231a" textLength="27.7" lengthAdjust="spacingAndGlyphs" stroke="#e2231a" stroke-width="0.25">A2 escalado</text>
<path d="M650.9,274.0 L650.9,261.8 L438.0,261.8" fill="none" stroke="#1b8a3a" stroke-width="1.7" stroke-dasharray="1.6 1.75"/>
<polygon points="431.3,261.8 439.5,258.4 439.5,265.2" fill="#1b8a3a"/>
<text x="443.8" y="269.5" font-size="6.5" text-anchor="start" fill="#1e8c50" textLength="27.7" lengthAdjust="spacingAndGlyphs" stroke="#1e8c50" stroke-width="0.25">B2 escalado</text>
<path d="M511.7,287.5 L438.0,287.5" fill="none" stroke="#1b8a3a" stroke-width="1.7" stroke-dasharray="1.6 1.75"/>
<polygon points="431.3,287.5 439.5,284.1 439.5,290.9" fill="#1b8a3a"/>
<text x="443.8" y="284.6" font-size="6.5" text-anchor="start" fill="#1e8c50" textLength="45.2" lengthAdjust="spacingAndGlyphs" stroke="#1e8c50" stroke-width="0.25">B1 solución directa</text>
<path d="M437.0,297.6 L513.0,297.6" fill="none" stroke="#e2231a" stroke-width="1.8" stroke-linejoin="miter"/>
<polygon points="431.3,297.6 438.7,294.1 438.7,301.1" fill="#e2231a"/>
<polygon points="518.6,297.6 511.4,301.0 511.4,294.2" fill="#e2231a"/>
<text x="443.8" y="305.3" font-size="6.5" text-anchor="start" fill="#e2231a" textLength="45.2" lengthAdjust="spacingAndGlyphs" stroke="#e2231a" stroke-width="0.25">A1 solución directa</text>
<text x="443.8" y="311.0" font-size="6.5" text-anchor="start" fill="#e2231a" textLength="6.4" lengthAdjust="spacingAndGlyphs" stroke="#e2231a" stroke-width="0.25">A2</text>
<path d="M425.2,304.4 L425.2,466.6 L431.0,466.6" fill="none" stroke="#1b8a3a" stroke-width="1.8" stroke-linejoin="miter"/>
<polygon points="437.8,466.6 430.3,469.6 430.3,463.6" fill="#1b8a3a"/>
<text x="420.5" y="364.0" font-size="5.6" text-anchor="end" fill="#1e8c50" textLength="6.5" lengthAdjust="spacingAndGlyphs" stroke="#1e8c50" stroke-width="0.44">B1</text>
<text x="420.5" y="370.3" font-size="5.6" text-anchor="end" fill="#1e8c50" textLength="6.5" lengthAdjust="spacingAndGlyphs" stroke="#1e8c50" stroke-width="0.44">B2</text>
<g transform="translate(527.5,274.8) scale(1.05,1.05)">
  <path d="M2.2,15.2 C1.6,11.2 2.8,10.1 6.8,9.5 L19.6,7.7 C24,7.1 25.7,8.4 25.4,12.6 L24.6,24.4 C24.3,28.6 23,29.6 18.8,29.9 L9.6,30.5 C5.4,30.8 4.2,29.8 3.7,25.8 Z" fill="none" stroke="#b1242a" stroke-width="2.1" stroke-linejoin="round"/>
  <path d="M14.2,13.2 L13.9,23.2 Q13.8,24.7 12.4,24.8 L7.2,25" fill="none" stroke="#b1242a" stroke-width="2.1" stroke-linecap="round" stroke-linejoin="round"/>
  <ellipse cx="38.8" cy="8.1" rx="5.8" ry="6.8" fill="#b1242a" transform="rotate(10 38.8 8.1)"/>
  <path d="M47.6,29.4 L47.6,24 C47.4,19.7 45,16.4 41.8,15.4 L35,15 C31.4,16.2 28.8,18.8 26.2,21.8 L26.6,25.2 L31,29.4 Z" fill="#b1242a"/>
  <path d="M21.6,28.4 L27.4,25.2 L34.4,29.6 L27,33.8 Z" fill="#f3e3df" stroke="#b1242a" stroke-width="1.2" stroke-linejoin="round"/>
  <path d="M34.6,10.8 Q35.2,14 38.4,14.2" fill="none" stroke="#e9b4b0" stroke-width="1.1" stroke-linecap="round"/>
  <circle cx="41.4" cy="24.4" r="0.8" fill="#f3d9d6"/>
  <path d="M27.7,23 L31.2,24.7" stroke="#f3d9d6" stroke-width="1" fill="none"/>
</g>
<g transform="translate(629.5,274.8) scale(1.05,1.05)">
  <path d="M2.2,15.2 C1.6,11.2 2.8,10.1 6.8,9.5 L19.6,7.7 C24,7.1 25.7,8.4 25.4,12.6 L24.6,24.4 C24.3,28.6 23,29.6 18.8,29.9 L9.6,30.5 C5.4,30.8 4.2,29.8 3.7,25.8 Z" fill="none" stroke="#b1242a" stroke-width="2.1" stroke-linejoin="round"/>
  <path d="M14.2,13.2 L13.9,23.2 Q13.8,24.7 12.4,24.8 L7.2,25" fill="none" stroke="#b1242a" stroke-width="2.1" stroke-linecap="round" stroke-linejoin="round"/>
  <ellipse cx="38.8" cy="8.1" rx="5.8" ry="6.8" fill="#b1242a" transform="rotate(10 38.8 8.1)"/>
  <path d="M47.6,29.4 L47.6,24 C47.4,19.7 45,16.4 41.8,15.4 L35,15 C31.4,16.2 28.8,18.8 26.2,21.8 L26.6,25.2 L31,29.4 Z" fill="#b1242a"/>
  <path d="M21.6,28.4 L27.4,25.2 L34.4,29.6 L27,33.8 Z" fill="#f3e3df" stroke="#b1242a" stroke-width="1.2" stroke-linejoin="round"/>
  <path d="M34.6,10.8 Q35.2,14 38.4,14.2" fill="none" stroke="#e9b4b0" stroke-width="1.1" stroke-linecap="round"/>
  <circle cx="41.4" cy="24.4" r="0.8" fill="#f3d9d6"/>
  <path d="M27.7,23 L31.2,24.7" stroke="#f3d9d6" stroke-width="1" fill="none"/>
</g>
<path d="M584.3,287.2 L621.1,287.2" fill="none" stroke="#e2231a" stroke-width="1.7" stroke-dasharray="1.6 1.75"/>
<polygon points="627.1,287.2 618.9,290.5 618.9,283.9" fill="#e2231a"/>
<text x="588.0" y="286.2" font-size="5.6" text-anchor="start" fill="#e2231a" textLength="27.8" lengthAdjust="spacingAndGlyphs" font-style="italic" stroke="#e2231a" stroke-width="0.44">A2 escalado</text>
<path d="M584.3,299.0 L621.1,299.0" fill="none" stroke="#1b8a3a" stroke-width="1.7" stroke-dasharray="1.6 1.75"/>
<polygon points="627.1,299.0 618.9,302.3 618.9,295.7" fill="#1b8a3a"/>
<text x="588.0" y="298.0" font-size="5.6" text-anchor="start" fill="#1b8a3a" textLength="27.8" lengthAdjust="spacingAndGlyphs" font-style="italic" stroke="#1b8a3a" stroke-width="0.44">B2 escalado</text>
<path d="M584.3,311.1 L615.0,311.1" fill="none" stroke="#22497f" stroke-width="1.7" stroke-dasharray="1.6 1.75"/>
<polygon points="621.0,311.1 612.8,314.4 612.8,307.8" fill="#22497f"/>
<text x="588.0" y="310.1" font-size="5.6" text-anchor="start" fill="#22497f" textLength="27.8" lengthAdjust="spacingAndGlyphs" font-style="italic" stroke="#22497f" stroke-width="0.44">C4 escalado</text>
<text x="558.3" y="318.2" font-size="5.6" text-anchor="middle" fill="#161616" textLength="35.2" lengthAdjust="spacingAndGlyphs" stroke="#161616" stroke-width="0.44">Primer nivel de</text>
<text x="558.3" y="324.3" font-size="5.6" text-anchor="middle" fill="#161616" textLength="46.4" lengthAdjust="spacingAndGlyphs" stroke="#161616" stroke-width="0.44">Atención Telefónica</text>
<text x="655.5" y="319.0" font-size="5.6" text-anchor="middle" fill="#161616" textLength="40.8" lengthAdjust="spacingAndGlyphs" stroke="#161616" stroke-width="0.44">Segundo nivel de</text>
<text x="655.2" y="325.0" font-size="5.6" text-anchor="middle" fill="#161616" textLength="47.0" lengthAdjust="spacingAndGlyphs" stroke="#161616" stroke-width="0.44">Atención Telefónica:</text>
<text x="655.5" y="331.3" font-size="5.6" text-anchor="middle" fill="#161616" textLength="56.5" lengthAdjust="spacingAndGlyphs" stroke="#161616" stroke-width="0.44">Departamentos y OOAA</text>
<path d="M573.4,335.8 L598.6,357.4" fill="none" stroke="#f5b323" stroke-width="2.1" stroke-linejoin="miter"/>
<polygon points="568.6,331.6 576.7,334.4 572.6,339.2" fill="#f5b323"/>
<polygon points="603.4,361.6 595.3,358.8 599.4,354.0" fill="#f5b323"/>
<path d="M651.9,336.2 L632.0,357.0" fill="none" stroke="#f5b323" stroke-width="2.1" stroke-linejoin="miter"/>
<polygon points="656.3,331.6 653.1,339.6 648.5,335.2" fill="#f5b323"/>
<polygon points="627.6,361.6 630.8,353.6 635.4,358.0" fill="#f5b323"/>
<path d="M552.6,444.3 L552.6,338.0" fill="none" stroke="#1b8a3a" stroke-width="1.7" stroke-dasharray="1.6 1.75"/>
<polygon points="552.6,331.2 556.0,339.2 549.2,339.2" fill="#1b8a3a"/>
<text x="547.0" y="430.0" font-size="5.6" text-anchor="end" fill="#1e8c50" textLength="6.5" lengthAdjust="spacingAndGlyphs" stroke="#1e8c50" stroke-width="0.44">B1</text>
<text x="547.0" y="435.8" font-size="5.6" text-anchor="end" fill="#1e8c50" textLength="6.5" lengthAdjust="spacingAndGlyphs" stroke="#1e8c50" stroke-width="0.44">B2</text>
<text x="547.0" y="442.8" font-size="5.6" text-anchor="end" fill="#1e8c50" textLength="70.7" lengthAdjust="spacingAndGlyphs" stroke="#1e8c50" stroke-width="0.44">(derivados desde otro centro)</text>
<rect x="561.6" y="366.7" width="112.8" height="34.9" rx="5" ry="5" fill="#bfccd2" stroke="#b53a42" stroke-width="1.5"/>
<text x="617.3" y="382.7" font-size="8" text-anchor="middle" fill="#050505" font-weight="bold" textLength="101.0" lengthAdjust="spacingAndGlyphs" stroke="#050505" stroke-width="0.5">Sistema de Gestión Telefónica</text>
<text x="617.8" y="391.0" font-size="8" text-anchor="middle" fill="#050505" font-weight="bold" textLength="52.0" lengthAdjust="spacingAndGlyphs" stroke="#050505" stroke-width="0.5">basado en CRM</text>
<text x="617.6" y="417.2" font-size="6.1" text-anchor="middle" fill="#161616" textLength="116.4" lengthAdjust="spacingAndGlyphs" stroke="#161616" stroke-width="0.18">Información a ciudadanos y empresas sobre</text>
<text x="617.6" y="423.5" font-size="6.1" text-anchor="middle" fill="#161616" textLength="114.9" lengthAdjust="spacingAndGlyphs" stroke="#161616" stroke-width="0.18">servicios, trámites y gestiones, soporte a la</text>
<text x="617.6" y="429.5" font-size="6.1" text-anchor="middle" fill="#161616" textLength="96.4" lengthAdjust="spacingAndGlyphs" stroke="#161616" stroke-width="0.18">utilización del portal y a la tramitación</text>
<text x="617.6" y="435.9" font-size="6.1" text-anchor="middle" fill="#161616" textLength="114.9" lengthAdjust="spacingAndGlyphs" stroke="#161616" stroke-width="0.18">telemática, inicio de trámites por teléfono y</text>
<text x="617.6" y="442.1" font-size="6.1" text-anchor="middle" fill="#161616" textLength="106.4" lengthAdjust="spacingAndGlyphs" stroke="#161616" stroke-width="0.18">consulta del estado de las tramitaciones</text>
<rect x="445.2" y="374.8" width="69.0" height="20.2" rx="4" ry="4" fill="#fdf1b6"/>
<text x="448.3" y="383.2" font-size="6.5" fill="#161616" stroke="#161616" stroke-width="0.3" textLength="57.5" lengthAdjust="spacingAndGlyphs">Portal <tspan fill="#2f5f95" stroke="#2f5f95">www.euskadi.net</tspan>,</text>
<text x="448.3" y="388.9" font-size="6.5" text-anchor="start" fill="#161616" textLength="47.0" lengthAdjust="spacingAndGlyphs" stroke="#161616" stroke-width="0.3">trámites y gestiones</text>
<rect x="445.2" y="400.0" width="69.0" height="20.2" rx="4" ry="4" fill="#fdf1b6"/>
<text x="448.3" y="409.0" font-size="6.5" text-anchor="start" fill="#161616" textLength="60.6" lengthAdjust="spacingAndGlyphs" stroke="#161616" stroke-width="0.3">Otros sistemas auxiliares:</text>
<text x="448.3" y="414.8" font-size="6.5" text-anchor="start" fill="#161616" textLength="31.1" lengthAdjust="spacingAndGlyphs" stroke="#161616" stroke-width="0.3">Etxebide, etc.</text>
<rect x="440.6" y="455.5" width="127.4" height="21.7" rx="5" ry="5" fill="#aeb9c1" stroke="#b53a42" stroke-width="1.4"/>
<text x="504.0" y="465.2" font-size="5.6" text-anchor="middle" fill="#161616" font-weight="bold" textLength="89.0" lengthAdjust="spacingAndGlyphs" stroke="#161616" stroke-width="0.25">Otros centros de atención telefónica</text>
<text x="503.8" y="471.0" font-size="5.6" text-anchor="middle" fill="#161616" textLength="63.3" lengthAdjust="spacingAndGlyphs" stroke="#161616" stroke-width="0.44">(como por ejemplo Izenpe)</text>
</g>
</svg>
</body></html>
